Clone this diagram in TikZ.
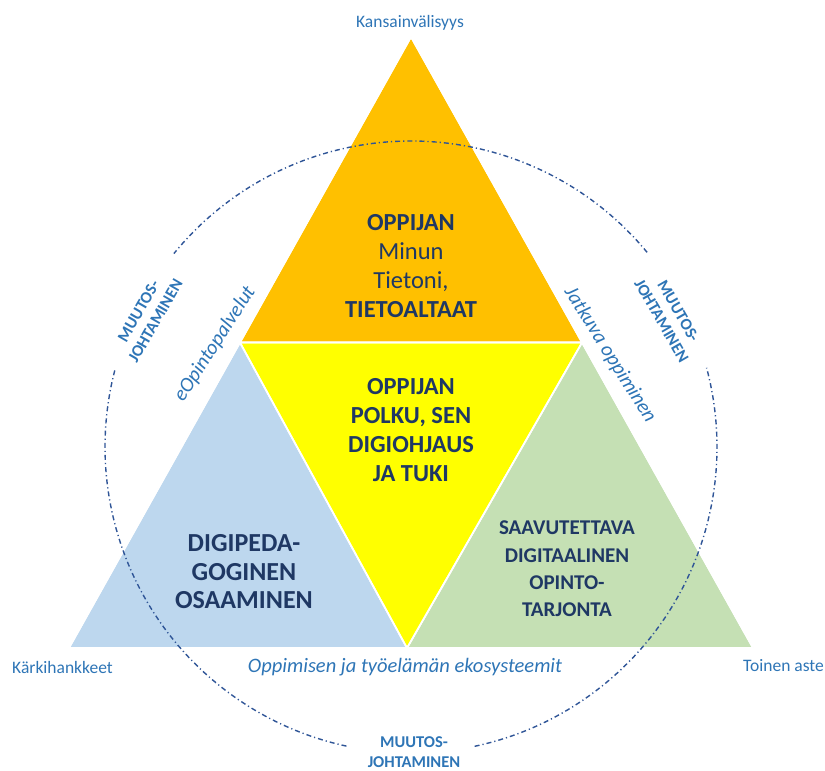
\documentclass[tikz,border=0pt]{standalone}
\usepackage{fontspec}
\setmainfont{Carlito}
\definecolor{orangeT}{HTML}{FFC000}
\definecolor{yellowT}{HTML}{FFFF00}
\definecolor{blueT}{HTML}{BDD7EE}
\definecolor{greenT}{HTML}{C5E0B4}
\definecolor{navy}{HTML}{1F3864}
\definecolor{labelblue}{HTML}{2E75B6}
\definecolor{ringblue}{HTML}{2F5597}
\tikzset{
  piece/.style={draw=white, line width=1.6pt},
  bigtxt/.style={align=center, text=navy, font=\bfseries\fontsize{24.5}{29}\selectfont, inner sep=0pt},
  outerlbl/.style={text=labelblue, font=\fontsize{17.5}{20}\selectfont, inner sep=0pt},
  itlbl/.style={text=labelblue, font=\itshape\fontsize{20.5}{24}\selectfont, inner sep=0pt},
  changelbl/.style={align=center, text=labelblue, font=\bfseries\fontsize{16.5}{19.5}\selectfont, inner sep=0pt},
  ring/.style={draw=ringblue, line width=1.4pt, dash pattern=on 5pt off 3pt on 1.2pt off 3pt}
}
\begin{document}
\begin{tikzpicture}[x=1pt,y=1pt]
\useasboundingbox (0,0) rectangle (825,771);
% corner points
\coordinate (A) at (411,734);
\coordinate (B) at (69,123);
\coordinate (C) at (753,123);
\coordinate (AB) at (240,428.5);
\coordinate (AC) at (582,428.5);
\coordinate (BC) at (407,123);
\coordinate (O) at (411,324);
% triangles
\fill[piece, fill=orangeT] (A) -- (AC) -- (AB) -- cycle;
\fill[piece, fill=blueT] (AB) -- (BC) -- (B) -- cycle;
\fill[piece, fill=greenT] (AC) -- (C) -- (BC) -- cycle;
\fill[piece, fill=yellowT] (AB) -- (AC) -- (BC) -- cycle;
\draw[piece] (A) -- (AC) -- (AB) -- cycle;
\draw[piece] (AB) -- (BC) -- (B) -- cycle;
\draw[piece] (AC) -- (C) -- (BC) -- cycle;
% ring (dash-dot circle with gaps for labels)
\draw[ring] ([shift={(282:306)}]O) arc[start angle=282, end angle=375, radius=306];
\draw[ring] ([shift={(39.5:306)}]O) arc[start angle=39.5, end angle=140.8, radius=306];
\draw[ring] ([shift={(165.5:306)}]O) arc[start angle=165.5, end angle=258, radius=306];
% texts in triangles
\node[bigtxt] (orangetxt) at (411,504.5) {OPPIJAN\\\mdseries Minun\\\mdseries Tietoni,\\TIETOALTAAT};
\node[bigtxt] (yellowtxt) at (411,341) {OPPIJAN\\POLKU, SEN\\DIGIOHJAUS\\JA TUKI};
\node[bigtxt, font=\bfseries\fontsize{26}{28.5}\selectfont] (bluetxt) at (244,199) {DIGIPEDA-\\GOGINEN\\OSAAMINEN};
\node[bigtxt, font=\bfseries\fontsize{21}{27.3}\selectfont] (greentxt) at (567,202) {SAAVUTETTAVA\\DIGITAALINEN\\OPINTO-\\TARJONTA};
% outer labels
\node[outerlbl, anchor=base] (kv) at (410,743) {Kansainvälisyys};
\node[outerlbl, anchor=base west] (kh) at (12,97) {Kärkihankkeet};
\node[outerlbl, anchor=base west] (ta) at (743,99) {Toinen aste};
\node[itlbl, anchor=base] (eko) at (405,98) {Oppimisen ja työelämän ekosysteemit};
\node[itlbl, rotate=57] (eop) at (215,427) {eOpintopalvelut};
\node[itlbl, rotate=-58] (jo) at (610,416) {Jatkuva oppiminen};
% change management labels
\node[changelbl, rotate=60] (mjl) at (147,455) {MUUTOS-\\JOHTAMINEN};
\node[changelbl, rotate=-60] (mjr) at (670,455) {MUUTOS-\\JOHTAMINEN};
\node[changelbl] (mjb) at (414,19) {MUUTOS-\\JOHTAMINEN};
\end{tikzpicture}
\end{document}
